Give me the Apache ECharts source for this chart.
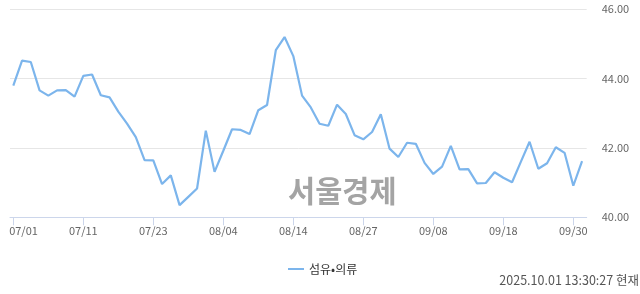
<!DOCTYPE html>
<html>
<head>
<meta charset="utf-8">
<script src="https://cdn.jsdelivr.net/npm/echarts@6/dist/echarts.min.js"></script>
<style>
html,body{margin:0;padding:0;background:#fff;}
#c{width:640px;height:294px;}
</style>
</head>
<body>
<div id="c"></div>
<script>
// Trading days 07/01 .. 10/01 (66 points); labels every 8 points
var tickIndex = [0, 8, 16, 24, 32, 40, 48, 56, 64];
var tickLabels = ['07/01', '07/11', '07/23', '08/04', '08/14', '08/27', '09/08', '09/18', '09/30'];
var seriesName = '섬유•의류';
var values = [
  43.80, 44.52, 44.48, 43.66, 43.51, 43.66, 43.67, 43.48, 44.08, 44.12,
  43.52, 43.46, 43.05, 42.70, 42.31, 41.65, 41.64, 40.96, 41.21, 40.35,
  40.59, 40.83, 42.50, 41.31, 41.92, 42.54, 42.52, 42.40, 43.09, 43.24,
  44.82, 45.20, 44.65, 43.51, 43.17, 42.70, 42.64, 43.25, 42.98, 42.37,
  42.25, 42.46, 42.97, 41.98, 41.74, 42.15, 42.12, 41.57, 41.25, 41.46,
  42.06, 41.38, 41.39, 40.98, 40.99, 41.30, 41.14, 41.01, 41.60, 42.18,
  41.40, 41.56, 42.02, 41.86, 40.91, 41.62
];
var yMin = 40, yMax = 46, yStep = 2;
var watermark = '서울경제';
var timestamp = '2025.10.01 13:30:27 현재';

var pts = values.map(function (v, i) { return [i, v]; });
var labelMap = {};
tickIndex.forEach(function (t, k) { labelMap[t] = tickLabels[k]; });

var FONT = '"Noto Sans CJK KR", "Noto Sans", sans-serif';
var chart = echarts.init(document.getElementById('c'), null, {renderer: 'canvas'});
chart.setOption({
  animation: false,
  backgroundColor: '#ffffff',
  grid: {left: 10, right: 53.3, top: 9.3, bottom: 76.7, containLabel: false},
  xAxis: {
    type: 'value',
    min: -0.377,
    max: 65.53,
    splitLine: {show: false},
    axisLine: {show: true, lineStyle: {color: '#ccd6eb', width: 1}},
    axisTick: {show: true, length: 8, lineStyle: {color: '#ccd6eb'}, customValues: tickIndex},
    axisLabel: {
      customValues: tickIndex,
      color: '#666666',
      fontFamily: FONT,
      fontSize: 11,
      margin: 8,
      formatter: function (v) {
        var t = labelMap[Math.round(v)] || '';
        return Math.round(v) === tickIndex[0] ? '{first|' + t + '}' : t;
      },
      rich: {
        first: {color: '#666666', fontFamily: FONT, fontSize: 11, padding: [0, 0, 0, 20.4]}
      }
    }
  },
  yAxis: {
    type: 'value',
    position: 'right',
    min: yMin,
    max: yMax,
    interval: yStep,
    axisLine: {show: false},
    axisTick: {show: false},
    splitLine: {show: true, lineStyle: {color: '#e6e6e6', width: 1}},
    axisLabel: {
      color: '#666666',
      fontFamily: FONT,
      fontSize: 11,
      margin: 15,
      formatter: function (v) { return v.toFixed(2); }
    }
  },
  legend: {
    show: true,
    left: 283,
    top: 258,
    icon: 'rect',
    itemWidth: 16,
    itemHeight: 2,
    itemGap: 5,
    textStyle: {color: '#333333', fontFamily: FONT, fontSize: 12, padding: [0, 0, 0, 0]},
    data: [seriesName]
  },
  graphic: [
    {
      type: 'text', left: 288, top: 176, z: 0, silent: true,
      style: {text: watermark, fill: '#a4a4a4', font: 'bold 29.5px ' + FONT}
    },
    {
      type: 'text', right: 1, top: 274, silent: true,
      style: {text: timestamp, fill: '#555555', font: '12.5px ' + FONT}
    }
  ],
  series: [{
    name: seriesName,
    type: 'line',
    data: pts,
    showSymbol: false,
    symbol: 'none',
    color: '#7cb5ec',
    lineStyle: {color: '#7cb5ec', width: 2.2},
    z: 3
  }]
});
</script>
</body>
</html>
